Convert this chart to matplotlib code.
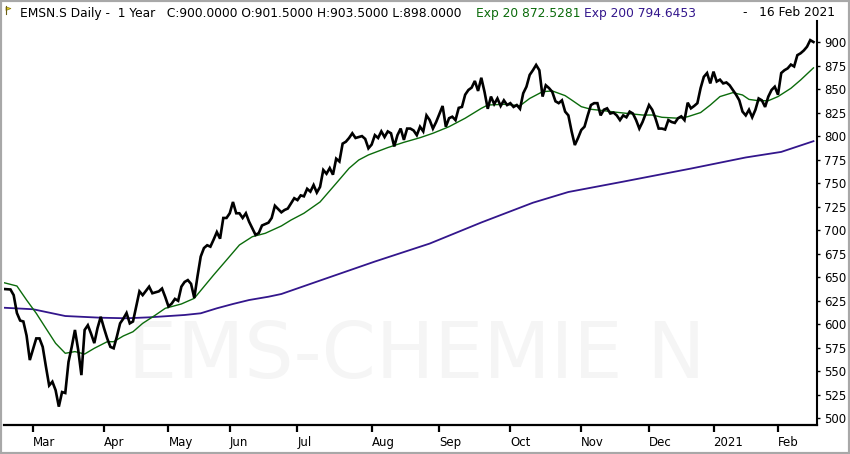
import numpy as np
import pandas as pd
import matplotlib
matplotlib.use('Agg')
import matplotlib.pyplot as plt
from matplotlib.patches import Rectangle, Polygon

# trading calendar (SIX), 18 Feb 2020 - 16 Feb 2021
holidays = ['2020-04-10', '2020-04-13', '2020-05-01', '2020-05-21', '2020-06-01',
            '2020-12-24', '2020-12-25', '2020-12-31', '2021-01-01']
days = pd.bdate_range('2020-02-18', '2021-02-16')
days = days[~days.isin(pd.to_datetime(holidays))]

month_labels = ['Mar', 'Apr', 'May', 'Jun', 'Jul', 'Aug', 'Sep', 'Oct', 'Nov', 'Dec', '2021', 'Feb']
y_ticks = list(range(500, 901, 25))

# close (trading-day index, value)
close_idx = [0, 2, 3, 4, 5, 6, 7, 8, 10, 11, 12, 13, 14, 15, 16, 17, 18, 19, 20, 21, 22, 23, 24, 25,
             26, 27, 28, 29, 30, 31, 32, 33, 34, 35, 36, 37, 38, 39, 40, 41, 42, 43, 45, 46, 48, 49,
             50, 51, 52, 53, 54, 55, 56, 57, 58, 59, 60, 61, 62, 63, 64, 65, 66, 67, 68, 69, 70, 71,
             72, 73, 74, 75, 76, 77, 78, 79, 80, 82, 83, 84, 86, 87, 88, 90, 91, 92, 93, 94, 95, 96,
             97, 98, 99, 100, 101, 102, 103, 104, 105, 106, 107, 108, 109, 110, 111, 112, 113, 114,
             115, 116, 117, 118, 119, 120, 121, 122, 123, 124, 125, 126, 127, 128, 129, 130, 131, 132,
             133, 134, 136, 137, 138, 139, 140, 141, 142, 143, 144, 145, 146, 147, 148, 149, 150, 151,
             152, 153, 154, 155, 156, 157, 158, 159, 160, 161, 162, 163, 164, 165, 166, 167, 168, 169,
             170, 171, 172, 173, 174, 175, 176, 177, 178, 179, 180, 181, 182, 183, 184, 185, 186, 187,
             188, 189, 190, 191, 192, 193, 194, 195, 196, 197, 198, 199, 200, 201, 202, 203, 204, 205,
             206, 207, 208, 209, 210, 211, 212, 213, 214, 215, 216, 217, 218, 219, 220, 221, 222, 223,
             224, 225, 226, 227, 228, 229, 230, 231, 232, 233, 234, 235, 236, 237, 238, 239, 240, 241,
             242, 243, 244, 245, 246, 247, 248, 249, 250, 251]
close_val = [637.5, 637, 631, 612, 604, 603, 588, 562, 585, 585, 576, 555, 535, 539, 530, 512.5, 528, 527,
             560, 576, 594, 573, 546, 594, 599, 590, 580, 596, 608, 596, 585, 576, 574.5, 587, 601, 606,
             612, 601, 603, 619, 635, 631, 640, 633, 635, 638, 629, 619, 622, 627, 625, 640, 645, 647,
             643, 628, 651, 672, 681, 684, 682.5, 690, 698, 691, 713, 713, 718, 730, 718, 718, 713, 718,
             709, 702, 695, 697, 705, 708, 713, 726, 719, 721.5, 723, 734, 732, 737, 736, 744, 741, 748,
             740, 746, 764, 760, 766, 759, 776, 773, 792, 794, 798, 803, 798, 799, 800, 797, 787, 791,
             801, 798, 805, 799, 805, 803, 789, 801, 808, 796, 808, 808, 806, 801, 810, 805, 822, 817,
             808, 815, 832, 810, 819, 820.6, 817, 830, 831, 844, 849, 851.5, 858.6, 848, 862, 847, 829, 842,
             834, 840, 832, 838, 833, 835, 831, 833, 829, 845.5, 852.5, 865, 870, 875.6, 870, 842, 854, 851,
             847, 837, 835, 838, 826, 822, 805, 790.5, 798, 806.5, 810, 822, 833, 835, 835, 822, 828, 829.5,
             824, 825, 822, 817, 822, 820, 826, 824, 817, 808, 815, 824, 833, 828, 819, 808, 808, 807,
             817, 815, 814, 819, 821, 817, 835.5, 829.5, 832, 835, 851, 863, 867, 856, 868.5, 858, 860,
             856, 857, 854, 849, 844, 838, 826, 822, 828, 820, 828, 840, 838, 831, 842, 849, 852.5, 844, 867,
             870, 872, 876, 874, 886, 888, 891, 895, 902, 900]

# Exp 20
ema20_idx = [0, 4, 7, 10, 13, 16, 19, 22, 25, 28, 32, 34, 37, 40, 43, 47, 50, 55, 59, 62, 65, 69, 73, 77,
             81, 86, 89, 93, 98, 103, 107, 110, 113, 119, 124, 129, 133, 138, 143, 148, 150, 155, 160,
             163, 167, 170, 174, 176, 179, 182, 186, 190, 193, 198, 201, 204, 209, 212, 216, 219, 222,
             226, 229, 231, 234, 237, 240, 244, 247, 251]
ema20_val = [644.2, 640.7, 625.8, 611.7, 595.7, 579.8, 569.2, 571, 568.4, 574.5, 581.5, 581.5, 587.6, 592.1,
             601, 609.9, 617, 621.6, 627.6, 640, 652.4, 668.3, 684.3, 693.1, 696.7, 704.5, 710.8, 718, 730,
             749.8, 765.8, 774.6, 780, 787.8, 793.4, 798.3, 803, 810, 819, 829.5, 833, 833.8, 832.3, 840,
             847.2, 848, 843, 838.4, 831.3, 828.5, 827, 825.3, 824.2, 822.4, 822.4, 820, 819, 820.6, 825,
             833, 842, 846.2, 843.7, 839, 837.6, 837.6, 842, 850.8, 859.6, 872.5]

# Exp 200
ema200_idx = [0, 9, 19, 30, 38, 45, 56, 61, 66, 71, 76, 82, 86, 99, 115, 132, 148, 164, 175, 192, 213,
              230, 241, 251]
ema200_val = [617.6, 616, 608.8, 607, 606.4, 607.4, 609.9, 611.7, 617, 621.6, 625.8, 629.3, 632.2, 647.7,
              666.7, 685.8, 708.2, 729.2, 740.6, 751.6, 765.5, 777.3, 783.2, 794.6]

W, H = 850, 454
fig = plt.figure(figsize=(W / 100, H / 100), dpi=100)
fig.patch.set_facecolor('white')

left, right, bottom, top = 4, 817, 425, 21
ax = fig.add_axes([left / W, 1 - bottom / H, (right - left) / W, (bottom - top) / H])

green = '#0b6b0b'
purple = '#33168c'

ax.text(0.508, 0.17, 'EMS-CHEMIE N', transform=ax.transAxes, ha='center', va='center',
        fontsize=56, color='#f5f5f5', zorder=0)

ax.plot(ema200_idx, ema200_val, color=purple, lw=1.3, zorder=2)
ax.plot(ema20_idx, ema20_val, color=green, lw=1.0, zorder=3)
ax.plot(close_idx, close_val, color='black', lw=1.9, zorder=4, solid_joinstyle='miter')

px_per_day = 3.225
ax.set_xlim(0, (right - left) / px_per_day)
ax.set_ylim(900 - (bottom - 42) / 0.941, 900 + (42 - top) / 0.941)

for s in ['top', 'left']:
    ax.spines[s].set_visible(False)
ax.spines['right'].set_linewidth(1.5)
ax.spines['bottom'].set_linewidth(1.6)

month_start = [i for i in range(1, len(days)) if days[i].month != days[i - 1].month]
ax.set_xticks(month_start)
ax.set_xticklabels(month_labels, fontsize=8.5, ha='left')
ax.tick_params(axis='x', direction='out', length=5, width=1.6, pad=3)

ax.yaxis.tick_right()
ax.set_yticks(y_ticks)
ax.set_yticklabels([str(v) for v in y_ticks], fontsize=8.5)
ax.tick_params(axis='y', direction='out', length=2, width=1, pad=3)

# header
hy = 1 - 13 / H
fig.text(20 / W, hy, 'EMSN.S Daily -  1 Year   C:900.0000 O:901.5000 H:903.5000 L:898.0000',
         fontsize=8.85, color='black', va='center')
fig.text(476 / W, hy, 'Exp 20 872.5281', fontsize=8.85, color=green, va='center')
fig.text(584 / W, hy, 'Exp 200 794.6453', fontsize=8.85, color=purple, va='center')
fig.text(743 / W, hy, '-   16 Feb 2021', fontsize=8.85, color='black', va='center')

# flag icon
fig.patches.append(Polygon([[6 / W, 1 - 7 / H], [11 / W, 1 - 8.5 / H], [6 / W, 1 - 10.5 / H]],
                           closed=True, transform=fig.transFigure, facecolor='#e8d21a',
                           edgecolor='#8a7a10', lw=0.5))
fig.lines.append(plt.Line2D([6 / W, 6 / W], [1 - 6 / H, 1 - 14 / H], transform=fig.transFigure,
                            color='#6b5e10', lw=0.8))

# window frame
fig.patches.append(Rectangle((0, 0), 1, 1, transform=fig.transFigure, fill=False,
                             edgecolor='#a8a8a8', lw=3))

fig.savefig('out.png', dpi=100)
